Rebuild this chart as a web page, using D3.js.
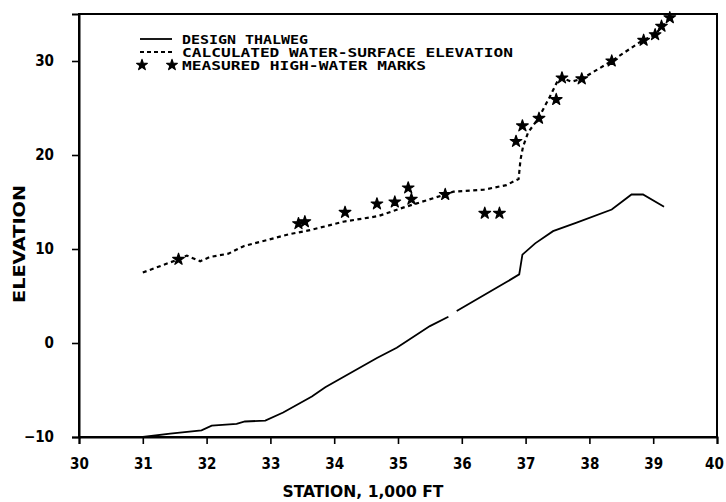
<!DOCTYPE html>
<html><head><meta charset="utf-8">
<script src="https://cdn.jsdelivr.net/npm/d3@7"></script>
<style>
html,body{margin:0;padding:0;background:#fff;}
svg{display:block;}
</style></head>
<body>
<svg id="chart" width="726" height="502"></svg>
<script>
// ---- data ----
const xTicks = [30, 31, 32, 33, 34, 35, 36, 37, 38, 39, 40];
const yTicks = [-10, 0, 10, 20, 30];
const legendLabels = ["DESIGN THALWEG", "CALCULATED WATER-SURFACE ELEVATION", "MEASURED HIGH-WATER MARKS"];

const thalwegStation = [30.0, 31.0, 31.43, 31.92, 32.08, 32.47, 32.6, 32.92, 33.2, 33.65, 33.86, 34.67, 34.98, 35.5, 35.79, 35.85, 35.92, 36.68, 36.9, 36.95, 37.15, 37.43, 37.8, 38.35, 38.66, 38.84, 39.17];
const thalwegElev    = [-10.0, -10.0, -9.65, -9.3, -8.8, -8.6, -8.35, -8.25, -7.4, -5.7, -4.7, -1.6, -0.5, 1.8, 2.8, null, 3.4, 6.4, 7.3, 9.4, 10.6, 11.9, 12.8, 14.2, 15.8, 15.8, 14.5];

const wsStation = [31.0, 31.56, 31.69, 31.9, 32.05, 32.34, 32.58, 33.31, 33.62, 34.14, 34.69, 35.08, 35.74, 35.87, 36.34, 36.7, 36.89, 36.92, 36.96, 37.04, 37.2, 37.38, 37.51, 37.57, 37.72, 37.88, 38.35, 38.79, 39.03, 39.13, 39.26];
const wsElev    = [7.5, 8.9, 9.3, 8.7, 9.15, 9.5, 10.3, 11.6, 12.0, 12.9, 13.5, 14.4, 15.8, 16.1, 16.3, 16.8, 17.45, 19.5, 20.9, 22.4, 23.9, 26.2, 28.0, 28.2, 27.8, 28.1, 30.0, 32.0, 32.8, 33.6, 34.6];

const hwmStation = [31.56, 33.44, 33.54, 34.17, 34.67, 34.95, 35.16, 35.21, 35.74, 36.36, 36.59, 36.85, 36.95, 37.21, 37.48, 37.57, 37.88, 38.35, 38.85, 39.03, 39.13, 39.26];
const hwmElev    = [8.9, 12.7, 12.9, 13.9, 14.8, 15.0, 16.5, 15.3, 15.8, 13.8, 13.8, 21.45, 23.1, 23.9, 25.9, 28.2, 28.1, 30.0, 32.2, 32.8, 33.7, 34.6];

// ---- drawing ----
const svg = d3.select("#chart");
const L = 79, R = 717, T = 14, B = 437;
const x = d3.scaleLinear().domain([30, 40]).range([L, R]);
const y = d3.scaleLinear().domain([-10, 35]).range([B, T]);

const tickFont = "'DejaVu Sans Condensed','Liberation Sans Narrow','DejaVu Sans',sans-serif";

// frame
svg.append("rect").attr("x", L).attr("y", T).attr("width", R - L).attr("height", B - T)
  .attr("fill", "none").attr("stroke", "#000").attr("stroke-width", 2);

// x axis
const xAxis = svg.append("g").attr("transform", `translate(0,${B})`)
  .call(d3.axisBottom(x).tickValues(xTicks).tickSize(7).tickPadding(14).tickFormat(d3.format("d")));
// y axis
const yAxis = svg.append("g").attr("transform", `translate(${L},0)`)
  .call(d3.axisLeft(y).tickValues(yTicks).tickSize(7).tickPadding(18).tickFormat(d3.format("d")));
[xAxis, yAxis].forEach(g => {
  g.select(".domain").attr("stroke-width", 2);
  g.selectAll(".tick line").attr("stroke-width", 1.6);
  g.selectAll(".tick text").attr("font-family", tickFont).attr("font-weight", "bold")
    .attr("font-size", 15).attr("fill", "#000");
});
xAxis.selectAll(".tick text").filter(d => d === 40).attr("dx", -3);

// axis titles
svg.append("text").attr("x", 363).attr("y", 497).attr("text-anchor", "middle")
  .attr("font-family", tickFont).attr("font-weight", "bold").attr("font-size", 15)
  .attr("textLength", 161).attr("lengthAdjust", "spacingAndGlyphs")
  .text("STATION, 1,000 FT");
svg.append("text").attr("transform", "translate(25,244) rotate(-90)").attr("text-anchor", "middle")
  .attr("font-family", tickFont).attr("font-weight", "bold").attr("font-size", 15)
  .attr("textLength", 118).attr("lengthAdjust", "spacingAndGlyphs")
  .text("ELEVATION");

// thalweg
const thalweg = thalwegStation.map((s, i) => [s, thalwegElev[i]]);
svg.append("path").datum(thalweg)
  .attr("d", d3.line().defined(d => d[1] !== null).x(d => x(d[0])).y(d => y(d[1])))
  .attr("fill", "none").attr("stroke", "#000").attr("stroke-width", 1.8);

// water surface
const ws = wsStation.map((s, i) => [s, wsElev[i]]);
svg.append("path").datum(ws)
  .attr("d", d3.line().x(d => x(d[0])).y(d => y(d[1])))
  .attr("fill", "none").attr("stroke", "#000").attr("stroke-width", 2.2)
  .attr("stroke-dasharray", "4,3.5");

// high-water marks
const star = d3.symbol().type(d3.symbolStar).size(42);
svg.append("g").selectAll("path").data(hwmStation.map((s, i) => [s, hwmElev[i]])).join("path")
  .attr("transform", d => `translate(${x(d[0])},${y(d[1])})`)
  .attr("d", star).attr("fill", "#000").attr("stroke", "#000").attr("stroke-width", 1.2)
  .attr("stroke-linejoin", "round");

// legend
const legFont = "'DejaVu Sans Mono',monospace";
const leg = svg.append("g");
const legY = [39, 52, 65];
leg.append("line").attr("x1", 140).attr("x2", 172).attr("y1", legY[0]).attr("y2", legY[0])
  .attr("stroke", "#000").attr("stroke-width", 1.8);
leg.append("line").attr("x1", 140).attr("x2", 172).attr("y1", legY[1]).attr("y2", legY[1])
  .attr("stroke", "#000").attr("stroke-width", 2).attr("stroke-dasharray", "4,3");
[142, 172].forEach(px => {
  leg.append("path").attr("transform", `translate(${px},${legY[2]})`).attr("d", star.size(36))
    .attr("fill", "#000").attr("stroke", "#000").attr("stroke-width", 1.2).attr("stroke-linejoin", "round");
});
const legWidths = [126, 331, 244];
legendLabels.forEach((t, i) => {
  leg.append("text").attr("x", 182).attr("y", legY[i] + 5)
    .attr("font-family", legFont).attr("font-size", 12).attr("font-weight", 600)
    .attr("textLength", legWidths[i]).attr("lengthAdjust", "spacingAndGlyphs")
    .text(t);
});
</script>
</body></html>
